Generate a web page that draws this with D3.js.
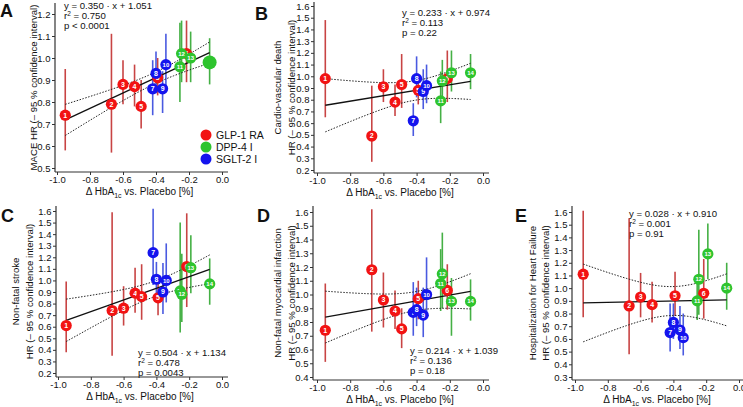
<!DOCTYPE html>
<html><head><meta charset="utf-8">
<script src="https://cdn.jsdelivr.net/npm/d3@7"></script>
<style>
body{margin:0;background:#fff}
svg{display:block}
text{font-family:"Liberation Sans",Arial,Helvetica,sans-serif;fill:#111}
</style>
</head><body>
<svg id="chart" width="743" height="407"></svg>
<script>
// ---------- data ----------
const studyLabels = ["1","2","3","4","5","5","6","7","8","9","10","11","12","13","14"];
const drugClass   = ["GLP-1 RA","GLP-1 RA","GLP-1 RA","GLP-1 RA","GLP-1 RA","GLP-1 RA","GLP-1 RA",
                     "SGLT-2 I","SGLT-2 I","SGLT-2 I","SGLT-2 I",
                     "DPP-4 I","DPP-4 I","DPP-4 I","DPP-4 I"];
const deltaHbA1c  = [-0.95,-0.67,-0.60,-0.53,-0.49,-0.39,-0.215,-0.42,-0.40,-0.36,-0.34,-0.255,-0.245,-0.19,-0.075];

const hrA = [0.74,0.79,0.88,0.87,0.78,0.91,1.02,0.86,0.93,0.86,0.97,0.96,1.02,1.00,0.98];
const loA = [0.58,0.57,0.79,0.78,0.68,0.83,0.89,0.74,0.84,0.75,0.85,0.80,0.89,0.89,0.88];
const hiA = [0.95,1.11,0.99,0.97,0.90,1.00,1.17,0.99,1.03,0.94,1.11,1.16,1.17,1.12,1.09];

const hrB = [0.98,0.49,0.91,0.78,0.93,0.88,0.98,0.62,0.98,0.87,0.92,0.79,0.96,1.03,1.03];
const loB = [0.65,0.27,0.78,0.66,0.73,0.76,0.78,0.49,0.82,0.72,0.77,0.60,0.81,0.87,0.89];
const hiB = [1.48,0.92,1.06,0.93,1.19,1.02,1.22,0.77,1.17,1.06,1.10,1.04,1.14,1.22,1.19];

const hrC = [0.61,0.74,0.76,0.89,0.86,0.85,1.12,1.24,1.01,0.90,1.00,0.91,0.88,1.11,0.97];
const loC = [0.38,0.35,0.61,0.72,0.66,0.70,0.77,0.96,0.86,0.71,0.81,0.55,0.64,0.89,0.79];
const hiC = [0.99,1.59,0.95,1.11,1.14,0.98,1.58,1.62,1.16,1.15,1.32,1.50,1.23,1.39,1.19];

const hrD = [0.74,1.18,0.96,0.88,0.75,0.97,1.03,0.87,0.89,0.85,1.00,1.08,1.15,0.95,0.95];
const loD = [0.51,0.73,0.76,0.75,0.61,0.82,0.89,0.70,0.77,0.69,0.88,0.88,0.90,0.70,0.81];
const hiD = [1.08,1.62,1.16,1.03,0.90,1.10,1.22,1.09,1.05,1.05,1.27,1.33,1.45,1.12,1.11];

const hrE = [1.11,0.86,0.93,0.87,null,0.94,0.96,0.65,0.73,0.67,0.61,0.90,1.07,1.27,1.00];
const loE = [0.77,0.48,0.77,0.73,null,0.78,0.76,0.50,0.60,0.52,0.47,0.75,0.79,1.07,0.83];
const hiE = [1.61,1.55,1.12,1.05,null,1.13,1.23,0.88,0.88,0.86,0.80,1.08,1.46,1.51,1.20];

const fitSlope     = [0.350, 0.233, 0.504, 0.214, 0.028];
const fitIntercept = [1.051, 0.974, 1.134, 1.039, 0.910];
const fitR2Text    = ["0.750","0.113","0.478","0.136","0.001"];
const fitPText     = ["p < 0.0001","p = 0.22","p = 0.0043","p = 0.18","p = 0.91"];
const tStat        = [2.160, 2.160, 2.160, 2.160, 2.179]; // t(0.975, n-2)

const xTicks  = [-1.0,-0.8,-0.6,-0.4,-0.2,0.0];
const yTicksA = [0.5,0.6,0.7,0.8,0.9,1.0,1.1,1.2];
const yTicksB = [0.2,0.3,0.4,0.5,0.6,0.7,0.8,0.9,1.0,1.1,1.2,1.3,1.4,1.5,1.6];
const yTicksC = yTicksB;
const yTicksD = [0.4,0.5,0.6,0.7,0.8,0.9,1.0,1.1,1.2,1.3,1.4,1.5,1.6];
const yTicksE = [0.3,0.4,0.5,0.6,0.7,0.8,0.9,1.0,1.1,1.2,1.3,1.4,1.5,1.6];

const panelLetters = ["A","B","C","D","E"];
const yTitles = [
  ["MACE HR (– 95 % confidence interval)"],
  ["Cardio-vascular death","HR (– 95 % confidence interval)"],
  ["Non-fatal stroke","HR (– 95 % confidence interval)"],
  ["Non-fatal myocardial infarction","HR (– 95 % confidence interval)"],
  ["Hospitalization for Heart Failure","HR (– 95 % confidence interval)"]
];
const legendClasses = ["GLP-1 RA","DPP-4 I","SGLT-2 I"];

// ---------- styles / layout ----------
const dotColor = {"GLP-1 RA":"#f21313","DPP-4 I":"#2ec42e","SGLT-2 I":"#1414ee"};
const barColor = {"GLP-1 RA":"#c84444","DPP-4 I":"#45b045","SGLT-2 I":"#4a5ae0"};

const layouts = [
  {x0:57,x1:222, yBot:[0.5,168], yTop:[1.2,14], ax:55, ay:172, aTop:3, aRight:228,
   letter:[0,17], ann:[64,9], yt:[37], big:14},
  {x0:317,x1:483, yBot:[0.2,170], yTop:[1.6,6], ax:314, ay:173, aTop:2, aRight:489,
   letter:[255,20], ann:[402,16], yt:[281,295]},
  {x0:58,x1:222, yBot:[0.2,373], yTop:[1.6,211], ax:56, ay:377, aTop:206, aRight:228,
   letter:[1,222], ann:[138,356], yt:[19,33]},
  {x0:317,x1:483, yBot:[0.4,377], yTop:[1.6,212], ax:313, ay:380, aTop:206, aRight:489,
   letter:[257,222], ann:[410,354], yt:[281,295]},
  {x0:575,x1:739, yBot:[0.3,377], yTop:[1.6,212], ax:572, ay:380, aTop:206, aRight:743,
   letter:[515,222], ann:[629,217], yt:[536,549]}
];

const panelData = [
  {hr:hrA, lo:loA, hi:hiA, ticks:yTicksA},
  {hr:hrB, lo:loB, hi:hiB, ticks:yTicksB},
  {hr:hrC, lo:loC, hi:hiC, ticks:yTicksC},
  {hr:hrD, lo:loD, hi:hiD, ticks:yTicksD},
  {hr:hrE, lo:loE, hi:hiE, ticks:yTicksE}
];

const svg = d3.select("#chart");

panelData.forEach((pd, pi) => {
  const L = layouts[pi];
  const g = svg.append("g");
  const x = d3.scaleLinear().domain([-1, 0]).range([L.x0, L.x1]);
  const y = d3.scaleLinear().domain([L.yBot[0], L.yTop[0]]).range([L.yBot[1], L.yTop[1]]);

  // axes
  const ya = g.append("g").attr("transform", `translate(${L.ax},0)`)
    .call(d3.axisLeft(y).tickValues(pd.ticks).tickSize(3).tickSizeOuter(0).tickPadding(1.5).tickFormat(d => d.toFixed(1)));
  const xa = g.append("g").attr("transform", `translate(0,${L.ay})`)
    .call(d3.axisBottom(x).tickValues(xTicks).tickSize(3).tickSizeOuter(0).tickPadding(1.5).tickFormat(d => d.toFixed(1)));
  [ya, xa].forEach(a => {
    a.select(".domain").remove();
    a.selectAll("text").style("font-size", "9.5px").style("font-family", '"Liberation Sans",Arial,sans-serif').attr("fill", "#111");
    a.selectAll("line").attr("stroke", "#333");
  });
  g.append("line").attr("x1", L.ax).attr("x2", L.ax).attr("y1", L.aTop).attr("y2", L.ay)
    .attr("stroke", "#333").attr("stroke-width", 1.2);
  g.append("line").attr("x1", L.ax).attr("x2", L.aRight).attr("y1", L.ay).attr("y2", L.ay)
    .attr("stroke", "#333").attr("stroke-width", 1.2);

  // x title
  const xt = g.append("text").attr("x", x(-0.5)).attr("y", L.ay + 23)
    .attr("text-anchor", "middle").style("font-size", "10px");
  xt.append("tspan").text("Δ HbA");
  xt.append("tspan").text("1c").attr("dy", 2.5).style("font-size", "7px");
  xt.append("tspan").text(" vs. Placebo [%]").attr("dy", -2.5);

  // y title
  const yMid = (L.aTop + L.ay) / 2;
  yTitles[pi].forEach((t, k) => {
    g.append("text").attr("transform", `translate(${L.yt[k]},${yMid}) rotate(-90)`)
      .attr("text-anchor", "middle").style("font-size", "9.6px").text(t);
  });

  // panel letter
  g.append("text").attr("x", L.letter[0]).attr("y", L.letter[1])
    .style("font-size", "18px").style("font-weight", "bold").text(panelLetters[pi]);

  // points
  const pts = deltaHbA1c.map((dx, i) => ({x: dx, hr: pd.hr[i], lo: pd.lo[i], hi: pd.hi[i], lab: studyLabels[i], cls: drugClass[i]}))
    .filter(p => p.hr !== null);

  // error bars
  g.selectAll("line.eb").data(pts).enter().append("line")
    .attr("x1", d => x(d.x)).attr("x2", d => x(d.x))
    .attr("y1", d => y(d.lo)).attr("y2", d => y(d.hi))
    .attr("stroke", d => barColor[d.cls]).attr("stroke-width", 1.6);

  // regression + 95% CI band (from residuals around stated fit)
  const b = fitSlope[pi], a = fitIntercept[pi];
  const n = pts.length;
  const xm = d3.mean(pts, p => p.x);
  const sxx = d3.sum(pts, p => (p.x - xm) ** 2);
  const sse = d3.sum(pts, p => (p.hr - (a + b * p.x)) ** 2);
  const s = Math.sqrt(sse / (n - 2));
  const [xmin, xmax] = d3.extent(pts, p => p.x);
  const xs = d3.range(0, 41).map(k => xmin + (xmax - xmin) * k / 40);
  const half = xv => tStat[pi] * s * Math.sqrt(1 / n + (xv - xm) ** 2 / sxx);
  const line = d3.line().x(d => x(d[0])).y(d => y(d[1]));
  g.append("path").attr("d", line(xs.map(v => [v, a + b * v + half(v)])))
    .attr("fill", "none").attr("stroke", "#222").attr("stroke-width", 1).attr("stroke-dasharray", "1.5,1.5");
  g.append("path").attr("d", line(xs.map(v => [v, a + b * v - half(v)])))
    .attr("fill", "none").attr("stroke", "#222").attr("stroke-width", 1).attr("stroke-dasharray", "1.5,1.5");
  g.append("path").attr("d", line([[xmin, a + b * xmin], [xmax, a + b * xmax]]))
    .attr("fill", "none").attr("stroke", "#111").attr("stroke-width", 1.3);

  // dots
  const isBig = d => L.big && d.lab === String(L.big);
  const dots = g.selectAll("g.pt").data(pts).enter().append("g")
    .attr("transform", d => `translate(${x(d.x)},${y(d.hr)})`);
  dots.append("circle").attr("r", d => isBig(d) ? 7 : 5.6)
    .attr("fill", d => dotColor[d.cls]);
  dots.filter(d => !isBig(d)).append("text")
    .attr("text-anchor", "middle").attr("dy", "0.35em")
    .style("font-size", d => d.lab.length > 1 ? "6px" : "7px").style("font-weight", "bold")
    .style("fill", "#fff").text(d => d.lab);

  // annotation
  const an = g.append("text").attr("x", L.ann[0]).attr("y", L.ann[1]).style("font-size", "9.6px");
  an.append("tspan").attr("x", L.ann[0]).text(`y = ${b.toFixed(3)} · x + ${a.toFixed(3)}`);
  const r2 = an.append("tspan").attr("x", L.ann[0]).attr("dy", 10).text("r");
  an.append("tspan").text("2").attr("dy", -3.5).style("font-size", "6.5px");
  an.append("tspan").attr("dy", 3.5).text(` = ${fitR2Text[pi]}`);
  an.append("tspan").attr("x", L.ann[0]).attr("dy", 10).text(fitPText[pi]);
});

// legend (in panel A)
const lg = svg.append("g");
legendClasses.forEach((c, k) => {
  lg.append("circle").attr("cx", 206).attr("cy", 135 + k * 12).attr("r", 5.5).attr("fill", dotColor[c]);
  lg.append("text").attr("x", 216).attr("y", 139 + k * 12).style("font-size", "10.5px").text(c);
});
</script>
</body></html>
